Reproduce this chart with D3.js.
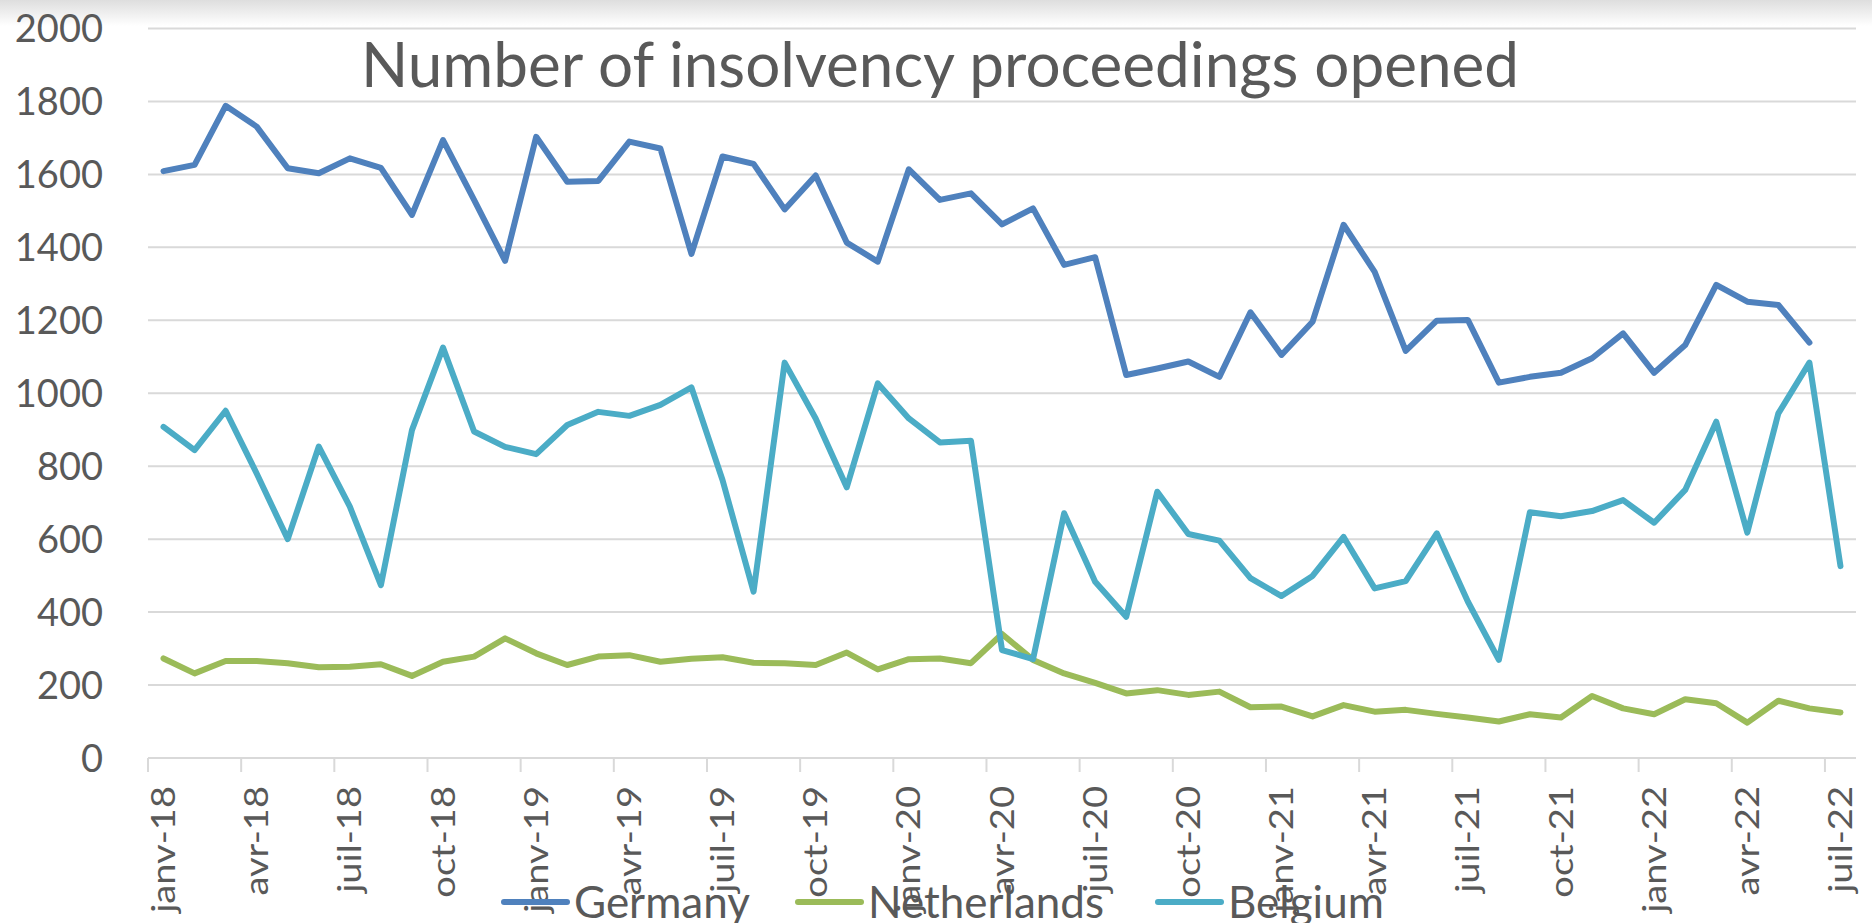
<!DOCTYPE html>
<meta charset="utf-8">
<style>
  body { margin: 0; background: #fff; }
  text { font-family: Lato, "Open Sans", sans-serif; fill: #595959; }
</style>
<svg width="1872" height="923"></svg>
<script src="https://d3js.org/d3.v7.min.js"></script>
<script>

    var months = [
        "janv-18","févr-18","mars-18","avr-18","mai-18","juin-18","juil-18","août-18","sept-18","oct-18","nov-18","déc-18",
        "janv-19","févr-19","mars-19","avr-19","mai-19","juin-19","juil-19","août-19","sept-19","oct-19","nov-19","déc-19",
        "janv-20","févr-20","mars-20","avr-20","mai-20","juin-20","juil-20","août-20","sept-20","oct-20","nov-20","déc-20",
        "janv-21","févr-21","mars-21","avr-21","mai-21","juin-21","juil-21","août-21","sept-21","oct-21","nov-21","déc-21",
        "janv-22","févr-22","mars-22","avr-22","mai-22","juin-22","juil-22"
    ];
    var tickLabels = ["janv-18","avr-18","juil-18","oct-18","janv-19","avr-19","juil-19","oct-19","janv-20","avr-20",
        "juil-20","oct-20","janv-21","avr-21","juil-21","oct-21","janv-22","avr-22","juil-22"];
    var yTicks = [0, 200, 400, 600, 800, 1000, 1200, 1400, 1600, 1800, 2000];

    var germany = [1609, 1626, 1788, 1731, 1617, 1603, 1644, 1618, 1489, 1694, 1530, 1363,
        1703, 1580, 1582, 1690, 1671, 1382, 1649, 1629, 1504, 1597, 1413, 1361,
        1614, 1530, 1548, 1463, 1507, 1352, 1373, 1050, 1068, 1087, 1045, 1222,
        1105, 1196, 1462, 1333, 1116, 1199, 1201, 1029, 1045, 1056, 1096, 1164,
        1056, 1132, 1297, 1251, 1242, 1139];
    var netherlands = [273, 232, 266, 266, 260, 249, 250, 257, 225, 264, 278, 328,
        287, 255, 278, 282, 264, 272, 276, 261, 260, 255, 289, 243,
        271, 273, 260, 340, 269, 232, 206, 177, 186, 173, 182, 139,
        141, 114, 145, 127, 132, 121, 111, 100, 120, 111, 170, 136,
        120, 161, 150, 97, 157, 136, 125];
    var belgium = [908, 844, 952, 780, 600, 854, 689, 474, 899, 1125, 895, 853,
        833, 913, 949, 938, 968, 1016, 762, 456, 1084, 931, 742, 1027,
        931, 865, 870, 296, 271, 671, 483, 387, 730, 614, 596, 493,
        444, 499, 606, 465, 485, 616, 429, 269, 674, 663, 677, 707,
        645, 735, 922, 618, 945, 1084, 526];

    var series = [
        {name: "Germany", values: germany, color: "#4f81bd"},
        {name: "Netherlands", values: netherlands, color: "#9bbb59"},
        {name: "Belgium", values: belgium, color: "#4bacc6"}
    ];

    var svg = d3.select("svg");
    var plotLeft = 148, plotRight = 1856, plotTop = 28.5, plotBottom = 758;

    var x = d3.scaleBand().domain(months).range([plotLeft, plotRight]).padding(0);
    var y = d3.scaleLinear().domain([0, 2000]).range([plotBottom, plotTop]);

    // soft shadow at the top edge
    var defs = svg.append("defs");
    var grad = defs.append("linearGradient").attr("id", "topShade")
        .attr("x1", 0).attr("y1", 0).attr("x2", 0).attr("y2", 1);
    grad.append("stop").attr("offset", "0%").attr("stop-color", "#dedede");
    grad.append("stop").attr("offset", "100%").attr("stop-color", "#ffffff");
    svg.append("rect").attr("x", 0).attr("y", 0).attr("width", 1872).attr("height", 26)
        .attr("fill", "url(#topShade)");

    // gridlines
    svg.append("g").selectAll("line").data(yTicks).enter().append("line")
        .attr("x1", plotLeft).attr("x2", plotRight)
        .attr("y1", function(d) { return y(d); })
        .attr("y2", function(d) { return y(d); })
        .attr("stroke", "#d9d9d9").attr("stroke-width", 2);

    // y labels
    svg.append("g").selectAll("text").data(yTicks).enter().append("text")
        .attr("x", 103).attr("y", function(d) { return y(d); })
        .attr("dy", "0.36em").attr("text-anchor", "end")
        .style("font-size", "38px")
        .text(function(d) { return d; });

    // x ticks at start of the quarter bands
    svg.append("g").selectAll("line").data(tickLabels).enter().append("line")
        .attr("x1", function(d) { return x(d); }).attr("x2", function(d) { return x(d); })
        .attr("y1", plotBottom).attr("y2", plotBottom + 14)
        .attr("stroke", "#d9d9d9").attr("stroke-width", 2);

    // rotated labels, stretched along their length like the original
    svg.append("g").selectAll("text").data(tickLabels).enter().append("text")
        .attr("transform", function(d) {
            return "translate(" + (x(d) + x.bandwidth() / 2) + "," + 786 + ") rotate(-90) scale(1.19,1)";
        })
        .attr("dy", "0.36em").attr("text-anchor", "end")
        .style("font-size", "32px")
        .text(function(d) { return d; });

    // title
    svg.append("text").attr("x", 940).attr("y", 87).attr("text-anchor", "middle")
        .style("font-size", "62px")
        .text("Number of insolvency proceedings opened");

    var line = d3.line()
        .x(function(d, i) { return x(months[i]) + x.bandwidth() / 2; })
        .y(function(d) { return y(d); });

    svg.append("g").selectAll("path").data(series).enter().append("path")
        .attr("d", function(d) { return line(d.values); })
        .attr("fill", "none")
        .attr("stroke", function(d) { return d.color; })
        .attr("stroke-width", 6)
        .attr("stroke-linejoin", "round")
        .attr("stroke-linecap", "round");

    // legend (drawn over the axis labels, like the original)
    var legendX = [504, 798, 1158];
    var leg = svg.append("g").selectAll("g").data(series).enter().append("g")
        .attr("transform", function(d, i) { return "translate(" + legendX[i] + ",902)"; });
    leg.append("line").attr("x1", 0).attr("x2", 63).attr("y1", 0).attr("y2", 0)
        .attr("stroke", function(d) { return d.color; })
        .attr("stroke-width", 6).attr("stroke-linecap", "round");
    leg.append("text").attr("x", 70).attr("y", 0).attr("dy", "0.36em")
        .style("font-size", "44px")
        .text(function(d) { return d.name; });
</script>
